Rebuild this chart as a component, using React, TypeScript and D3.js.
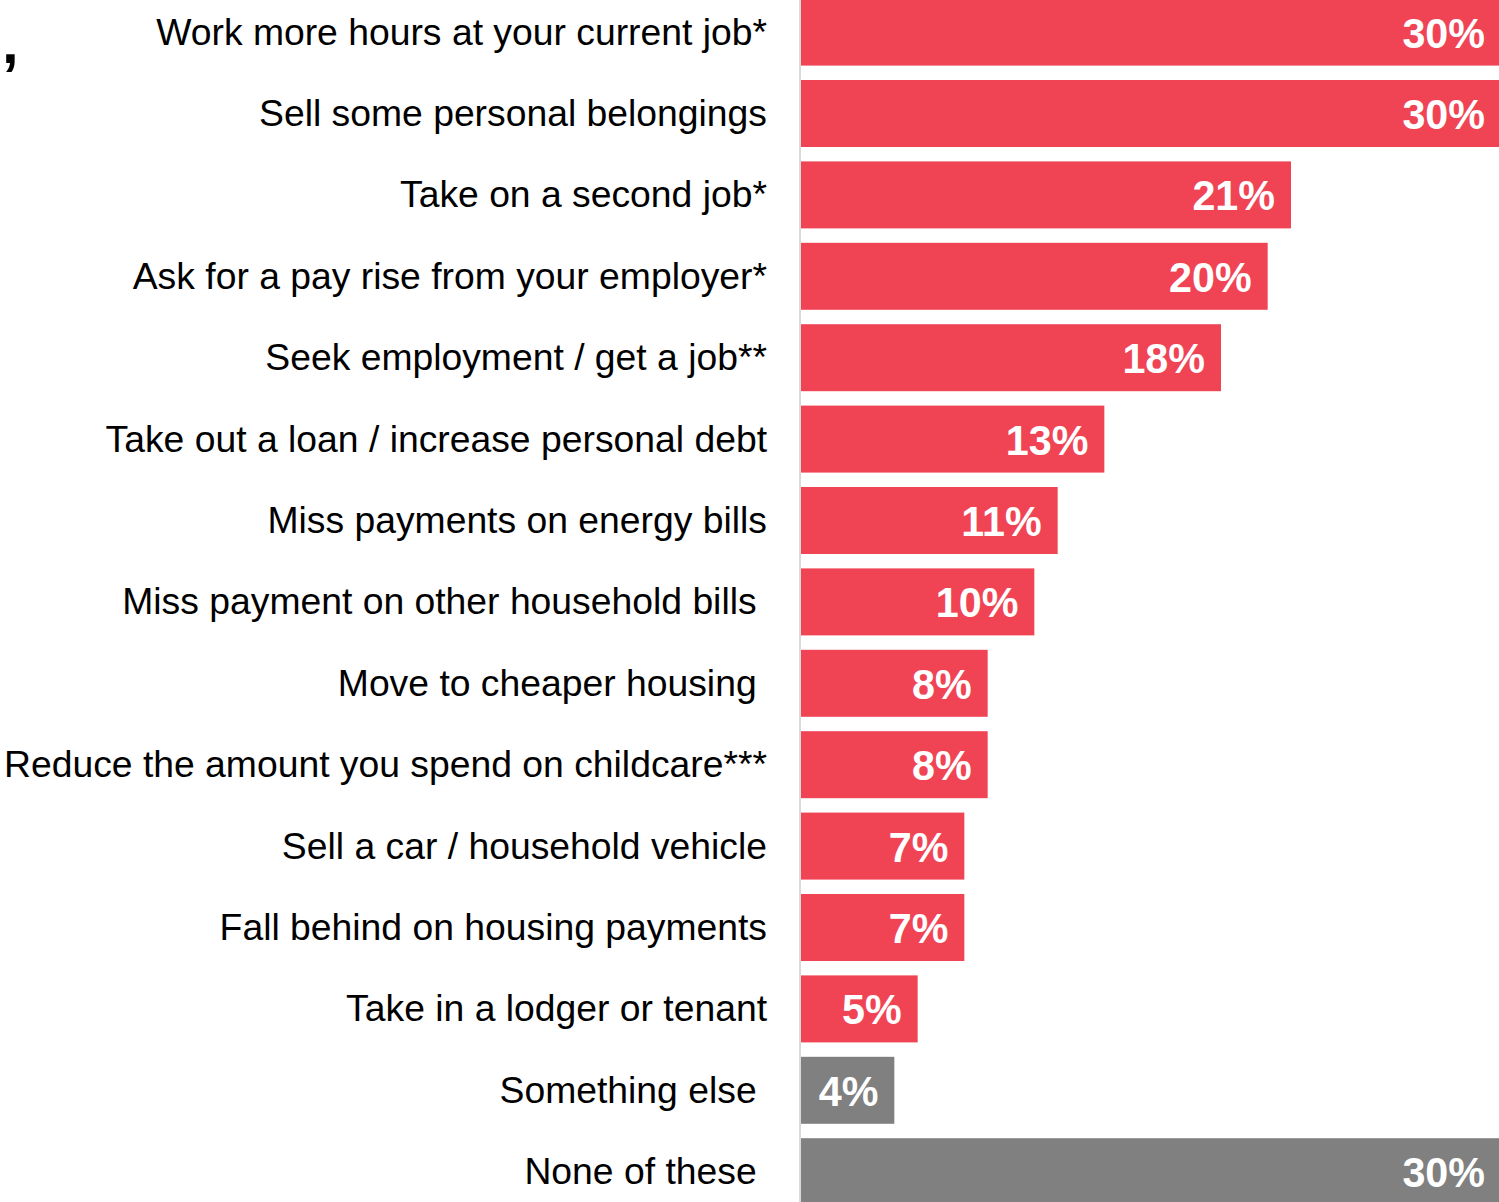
import React from "react";
import * as d3 from "d3";

const categories: string[] = [
  "Work more hours at your current job*",
  "Sell some personal belongings",
  "Take on a second job*",
  "Ask for a pay rise from your employer*",
  "Seek employment / get a job**",
  "Take out a loan / increase personal debt",
  "Miss payments on energy bills",
  "Miss payment on other household bills ",
  "Move to cheaper housing ",
  "Reduce the amount you spend on childcare***",
  "Sell a car / household vehicle",
  "Fall behind on housing payments",
  "Take in a lodger or tenant",
  "Something else ",
  "None of these ",
];

const values: number[] = [30, 30, 21, 20, 18, 13, 11, 10, 8, 8, 7, 7, 5, 4, 30];

const groups: string[] = [
  "action", "action", "action", "action", "action", "action", "action", "action",
  "action", "action", "action", "action", "action", "other", "other",
];

const colors: Record<string, string> = { action: "#F04455", other: "#808080" };

const W = 1499;
const H = 1202;

export default function App() {
  const x = d3.scaleLinear().domain([0, 30]).range([801, 1501]);
  const step = 81.4;
  const pad = 0.177;
  const y0 = -1.4 - (step * pad) / 2;
  const y = d3
    .scaleBand<string>()
    .domain(categories)
    .range([y0, y0 + step * categories.length])
    .paddingInner(pad)
    .paddingOuter(pad / 2);

  const labelFont = "'Liberation Sans', Arial, sans-serif";

  return (
    <svg
      width={W}
      height={H}
      viewBox={`0 0 ${W} ${H}`}
      style={{ position: "absolute", left: 0, top: 0, background: "#fff" }}
    >
      <text x={2} y={63} fontFamily={labelFont} fontWeight="bold" fontSize={60} fill="#000">
        ,
      </text>
      <line x1={800} x2={800} y1={0} y2={H} stroke="#d9d9d9" strokeWidth={2} />
      {categories.map((c, i) => {
        const top = y(c)!;
        const bh = y.bandwidth();
        const cy = top + bh / 2;
        const end = x(values[i]);
        const lx = end - 16;
        return (
          <g key={c}>
            <rect x={x(0)} y={top} width={end - x(0)} height={bh} fill={colors[groups[i]]} />
            <text
              x={767}
              y={cy + 12.5}
              textAnchor="end"
              fontFamily={labelFont}
              fontSize={37.3}
              fill="#000"
              style={{ whiteSpace: "pre" }}
            >
              {c}
            </text>
            <text
              transform={`translate(${lx},${cy + 15.5}) scale(0.96,1)`}
              textAnchor="end"
              fontFamily={labelFont}
              fontWeight="bold"
              fontSize={43}
              fill="#fff"
            >
              {`${values[i]}%`}
            </text>
          </g>
        );
      })}
    </svg>
  );
}
